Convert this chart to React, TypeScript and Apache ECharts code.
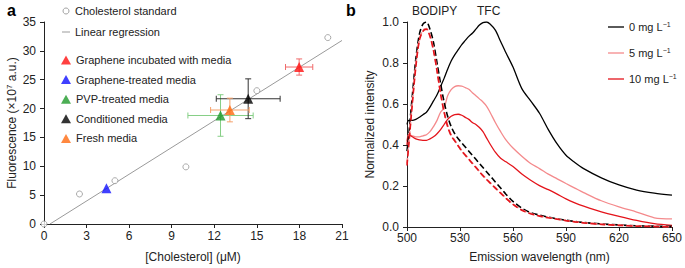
import React, { useEffect, useRef } from 'react';
import * as echarts from 'echarts';

// ---------- Panel a data ----------
const stdX = [0, 2.5, 5, 10, 15, 20];
const stdY = [0, 5.2, 7.5, 9.9, 23.1, 32.3];
const regX = [0.42, 21];
const regY = [0, 31.8];
const sampleNames = [
  'Graphene incubated with media',
  'Graphene-treated media',
  'PVP-treated media',
  'Conditioned media',
  'Fresh media',
];
const sampleX = [17.98, 4.4, 12.44, 14.39, 13.1];
const sampleY = [27.2, 6.2, 18.8, 21.7, 19.75];
const sampleXErr = [0.96, 0, 2.3, 2.25, 1.36];
const sampleYErr = [1.4, 0, 3.6, 3.45, 2.05];
const xTicksA = [0, 3, 6, 9, 12, 15, 18, 21];
const yTicksA = [0, 5, 10, 15, 20, 25, 30, 35];

// ---------- Panel b data ----------
const wl = [500, 501, 503, 505, 507, 509, 511, 513, 515, 517, 519, 521, 523, 525, 527, 529, 531, 533, 535, 537, 539, 541, 543, 545, 547, 550, 553, 556, 560, 565, 570, 575, 580, 585, 590, 595, 600, 610, 620, 630, 640, 650];
const tfc0 = [0.50, 0.52, 0.52, 0.525, 0.535, 0.548, 0.56, 0.585, 0.615, 0.645, 0.685, 0.725, 0.77, 0.81, 0.84, 0.865, 0.89, 0.91, 0.93, 0.945, 0.965, 0.985, 0.997, 1.0, 0.99, 0.96, 0.905, 0.85, 0.78, 0.675, 0.615, 0.555, 0.475, 0.405, 0.35, 0.315, 0.285, 0.24, 0.205, 0.18, 0.165, 0.155];
const tfc5 = [0.42, 0.45, 0.445, 0.44, 0.44, 0.445, 0.45, 0.465, 0.49, 0.52, 0.56, 0.58, 0.64, 0.67, 0.685, 0.689, 0.687, 0.68, 0.672, 0.655, 0.64, 0.625, 0.61, 0.59, 0.56, 0.51, 0.465, 0.425, 0.385, 0.345, 0.31, 0.285, 0.258, 0.235, 0.212, 0.19, 0.168, 0.128, 0.098, 0.073, 0.045, 0.04];
const tfc10 = [0.40, 0.45, 0.44, 0.43, 0.425, 0.423, 0.423, 0.43, 0.44, 0.455, 0.475, 0.5, 0.525, 0.54, 0.548, 0.55, 0.545, 0.535, 0.525, 0.51, 0.5, 0.485, 0.465, 0.435, 0.405, 0.365, 0.335, 0.318, 0.295, 0.258, 0.228, 0.202, 0.182, 0.16, 0.137, 0.118, 0.102, 0.074, 0.052, 0.032, 0.016, 0.008];
const bod0 = [0.37, 0.45, 0.64, 0.82, 0.94, 0.99, 1.0, 0.965, 0.9, 0.8, 0.7, 0.61, 0.54, 0.49, 0.455, 0.43, 0.41, 0.39, 0.37, 0.35, 0.33, 0.31, 0.29, 0.27, 0.25, 0.22, 0.19, 0.16, 0.125, 0.092, 0.07, 0.058, 0.048, 0.04, 0.033, 0.027, 0.022, 0.015, 0.01, 0.006, 0.004, 0.003];
const bod5 = [0.31, 0.41, 0.61, 0.79, 0.915, 0.96, 0.968, 0.935, 0.865, 0.765, 0.655, 0.565, 0.495, 0.45, 0.423, 0.398, 0.373, 0.352, 0.332, 0.312, 0.292, 0.272, 0.252, 0.234, 0.217, 0.192, 0.167, 0.142, 0.112, 0.084, 0.066, 0.054, 0.046, 0.039, 0.032, 0.026, 0.021, 0.014, 0.009, 0.005, 0.003, 0.001];
const bod10 = [0.30, 0.40, 0.60, 0.78, 0.91, 0.955, 0.965, 0.93, 0.86, 0.76, 0.65, 0.56, 0.49, 0.445, 0.42, 0.395, 0.37, 0.35, 0.33, 0.31, 0.29, 0.27, 0.25, 0.232, 0.215, 0.19, 0.165, 0.14, 0.11, 0.082, 0.065, 0.053, 0.045, 0.038, 0.031, 0.025, 0.02, 0.013, 0.008, 0.004, 0.002, 0.0];
const concNames = ['0 mg L-1', '5 mg L-1', '10 mg L-1'];
const peakLabels = ['BODIPY', 'TFC'];

const FONT = '"Liberation Sans", Arial, Helvetica, sans-serif';
const TXT = '#222';

const sampleColors = ['#ff1010', '#1010ff', '#1f9a2a', '#000000', '#ff6a10'];
const errColors = ['#f06a6a', '#1010ff', '#86cf86', '#333333', '#f5a16a'];
const lineColors = ['#000000', '#f48a8c', '#e4141b'];

function pairs(xs: number[], ys: number[]) {
  return xs.map((x, i) => [x, ys[i]]);
}

export default function App() {
  const ref = useRef<HTMLDivElement>(null);
  useEffect(() => {
    document.body.style.margin = '0';
    const chart = echarts.init(ref.current!, undefined, { renderer: 'svg' });

    const axisCommon = {
      axisLine: { show: true, onZero: false, lineStyle: { color: '#222', width: 1 } },
      axisTick: { show: true, inside: false, length: 4, lineStyle: { color: '#222' } },
      splitLine: { show: false },
      axisLabel: { color: TXT, fontSize: 12, fontFamily: FONT },
      nameTextStyle: { color: TXT, fontSize: 12, fontFamily: FONT },
    };

    const errSeries = sampleNames.map((n, i) => ({
      type: 'custom',
      name: n + ' error',
      xAxisIndex: 0,
      yAxisIndex: 0,
      clip: false,
      silent: true,
      data: [[sampleX[i], sampleY[i], sampleXErr[i], sampleYErr[i]]],
      encode: { x: 0, y: 1 },
      renderItem: (params: any, api: any) => {
        const x = api.value(0), y = api.value(1), ex = api.value(2), ey = api.value(3);
        if (!ex && !ey) return { type: 'group', children: [] };
        const l = api.coord([x - ex, y]);
        const r = api.coord([x + ex, y]);
        const t = api.coord([x, y + ey]);
        const b = api.coord([x, y - ey]);
        const c = 3;
        const style = { stroke: errColors[i], lineWidth: 1 };
        const ln = (x1: number, y1: number, x2: number, y2: number) => ({
          type: 'line', shape: { x1, y1, x2, y2 }, style,
        });
        return {
          type: 'group',
          children: [
            ln(l[0], l[1], r[0], r[1]),
            ln(t[0], t[1], b[0], b[1]),
            ln(l[0], l[1] - c, l[0], l[1] + c),
            ln(r[0], r[1] - c, r[0], r[1] + c),
            ln(t[0] - c, t[1], t[0] + c, t[1]),
            ln(b[0] - c, b[1], b[0] + c, b[1]),
          ],
        };
      },
    }));

    const triSeries = sampleNames.map((n, i) => ({
      type: 'scatter',
      name: n,
      xAxisIndex: 0,
      yAxisIndex: 0,
      symbol: 'triangle',
      symbolSize: 10,
      itemStyle: { color: sampleColors[i] },
      data: [[sampleX[i], sampleY[i]]],
      z: 5,
    }));

    const solid = [tfc0, tfc5, tfc10];
    const dashed = [bod0, bod5, bod10];

    const bLines: any[] = [];
    dashed.forEach((d, k) => {
      bLines.push({
        type: 'line',
        name: concNames[k] + ' BODIPY',
        xAxisIndex: 1,
        yAxisIndex: 1,
        data: pairs(wl, d),
        symbol: 'none',
        smooth: 0.3,
        lineStyle: { color: lineColors[k], width: 1.6, type: [6, 3] },
        z: 3,
      });
    });
    solid.forEach((s, k) => {
      bLines.push({
        type: 'line',
        name: concNames[k],
        xAxisIndex: 1,
        yAxisIndex: 1,
        data: pairs(wl, s),
        symbol: 'none',
        smooth: 0.3,
        lineStyle: { color: lineColors[k], width: 1.3 },
        itemStyle: { color: lineColors[k] },
        z: 2,
      });
    });

    const lineIcon = 'path://M0,0h16v1.3h-16z';

    const option: any = {
      animation: false,
      textStyle: { fontFamily: FONT },
      title: [
        { text: 'a', left: 2, top: -3, textStyle: { fontSize: 16, fontWeight: 'bold', color: '#000', fontFamily: FONT } },
        { text: 'b', left: 341, top: -3, textStyle: { fontSize: 16, fontWeight: 'bold', color: '#000', fontFamily: FONT } },
      ],
      grid: [
        { left: 44, top: 22, width: 298, height: 208 },
        { left: 407, top: 22, width: 268, height: 208 },
      ],
      xAxis: [
        {
          ...axisCommon, gridIndex: 0, type: 'value', min: xTicksA[0], max: xTicksA[xTicksA.length - 1], interval: 3,
          name: '[Cholesterol] (μM)', nameLocation: 'middle', nameGap: 27,
          axisLabel: { ...axisCommon.axisLabel, margin: 6 },
        },
        {
          ...axisCommon, gridIndex: 1, type: 'value', min: 500, max: 650, interval: 30,
          name: 'Emission wavelength (nm)', nameLocation: 'middle', nameGap: 24,
          axisLabel: { ...axisCommon.axisLabel, margin: 5 },
        },
      ],
      yAxis: [
        {
          ...axisCommon, gridIndex: 0, type: 'value', min: yTicksA[0], max: yTicksA[yTicksA.length - 1], interval: 5,
          name: '{a|Fluorescence (×10}{s|7}{a| a.u.)}', nameLocation: 'middle', nameGap: 25, nameRotate: 90,
          nameTextStyle: {
            color: TXT, fontFamily: FONT,
            rich: {
              a: { fontSize: 12, color: TXT, fontFamily: FONT },
              s: { fontSize: 8, color: TXT, fontFamily: FONT, padding: [0, 0, 6, 0] },
            },
          },
          axisLabel: { ...axisCommon.axisLabel, margin: 8 },
        },
        {
          ...axisCommon, gridIndex: 1, type: 'value', min: 0, max: 1, interval: 0.2,
          name: 'Normalized intensity', nameLocation: 'middle', nameGap: 31, nameRotate: 90,
          axisLabel: { ...axisCommon.axisLabel, margin: 8, formatter: (v: number) => v.toFixed(1) },
        },
      ],
      legend: [
        {
          data: [
            { name: 'Cholesterol standard', icon: 'circle', itemStyle: { color: '#fff', borderColor: '#8a8a8a', borderWidth: 1 } },
            { name: 'Linear regression', icon: 'path://M0,0h8v1h-8z', itemStyle: { color: '#9a9a9a', borderWidth: 0 } },
          ],
          orient: 'vertical', left: 57, top: 0, itemGap: 9, itemWidth: 8, itemHeight: 6, itemTextGap: 6,
          textStyle: { fontSize: 11, color: TXT, fontFamily: FONT, lineHeight: 12 },
          selectedMode: false,
        },
        {
          data: sampleNames,
          orient: 'vertical', left: 56, top: 49, itemGap: 7.6, itemWidth: 10, itemHeight: 9, itemTextGap: 5,
          textStyle: { fontSize: 11, color: TXT, fontFamily: FONT, lineHeight: 12 },
          selectedMode: false,
        },
        {
          data: concNames.map((n, k) => ({ name: n, icon: lineIcon, itemStyle: { color: lineColors[k], borderWidth: 0 } })),
          orient: 'vertical', left: 603, top: 15, itemGap: 12, itemWidth: 16, itemHeight: 10, itemTextGap: 5,
          selectedMode: false,
          formatter: (n: string) => '{n|' + n.replace(' L-1', ' L') + '}{s|−1}',
          textStyle: {
            fontSize: 11, color: TXT, fontFamily: FONT, lineHeight: 14,
            rich: {
              n: { fontSize: 11, color: TXT, fontFamily: FONT },
              s: { fontSize: 7, color: TXT, fontFamily: FONT, padding: [0, 0, 6, 0] },
            },
          },
        },
      ],
      graphic: [
        { type: 'text', left: 412, top: 5, style: { text: peakLabels[0], fontSize: 12, fill: TXT, fontFamily: FONT } },
        { type: 'text', left: 477, top: 5, style: { text: peakLabels[1], fontSize: 12, fill: TXT, fontFamily: FONT } },
      ],
      series: [
        {
          type: 'line', name: 'Linear regression', xAxisIndex: 0, yAxisIndex: 0,
          data: pairs(regX, regY), symbol: 'none',
          lineStyle: { color: '#9a9a9a', width: 1 }, itemStyle: { color: '#9a9a9a' }, z: 1,
        },
        {
          type: 'scatter', name: 'Cholesterol standard', xAxisIndex: 0, yAxisIndex: 0,
          data: pairs(stdX, stdY), symbol: 'circle', symbolSize: 6,
          itemStyle: { color: '#ffffff', borderColor: '#8a8a8a', borderWidth: 0.9 }, z: 2,
        },
        ...errSeries,
        ...triSeries,
        ...bLines,
      ],
    };
    chart.setOption(option);
    return () => chart.dispose();
  }, []);
  return <div ref={ref} style={{ width: 685, height: 268 }} />;
}
